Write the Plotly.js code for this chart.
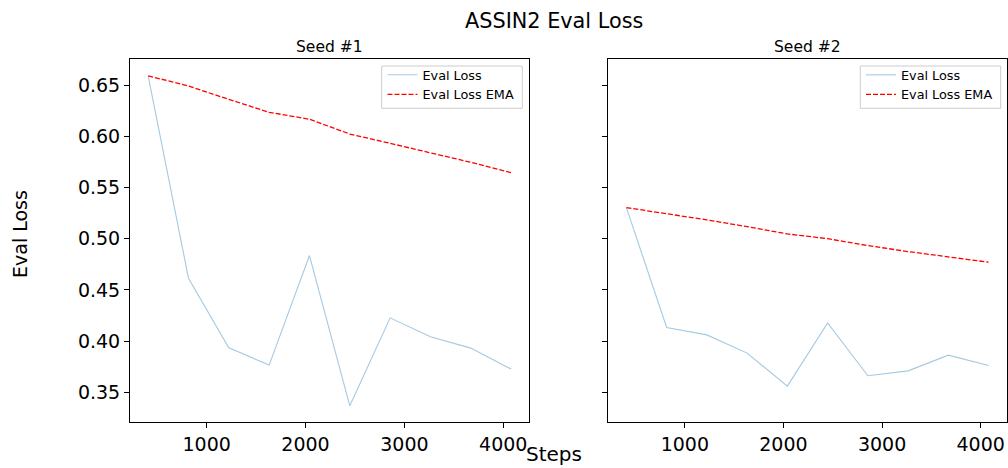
<!DOCTYPE html>
<html>
<head>
<meta charset="utf-8">
<script src="https://cdn.plot.ly/plotly-3.0.1.min.js"></script>
<style>html,body{margin:0;padding:0;background:#fff}#chart{width:1008px;height:468px}</style>
</head>
<body>
<div id="chart"></div>
<script>
const steps = [408, 816, 1224, 1632, 2040, 2448, 2856, 3264, 3672, 4080];
const seed1Loss = [0.659, 0.4615, 0.3936, 0.3767, 0.4836, 0.3370, 0.4228, 0.4043, 0.3933, 0.3728];
const seed1Ema  = [0.659, 0.649, 0.636, 0.6234, 0.6166, 0.6022, 0.5931, 0.584, 0.5746, 0.5645];
const seed2Loss = [0.5304, 0.4134, 0.4062, 0.3884, 0.3562, 0.4179, 0.3663, 0.3711, 0.3864, 0.3763];
const seed2Ema  = [0.5304, 0.5245, 0.5184, 0.5118, 0.5047, 0.5001, 0.4933, 0.4875, 0.4823, 0.4771];
const seriesNames = ['Eval Loss', 'Eval Loss EMA'];
const subplotTitles = ['Seed #1', 'Seed #2'];
const yTicks = [0.35, 0.40, 0.45, 0.50, 0.55, 0.60, 0.65];
const xTicks = [1000, 2000, 3000, 4000];

const W = 1008, H = 468;
const FONT = 'DejaVu Sans, sans-serif';

function pad(arr) {
  const mn = Math.min(...arr), mx = Math.max(...arr), d = (mx - mn) * 0.05;
  return [mn - d, mx + d];
}
const xr = pad(steps);
const yr = pad([].concat(seed1Loss, seed1Ema, seed2Loss, seed2Ema));

const lossLine = {color: 'rgba(31,119,180,0.4)', width: 1.1};
const emaLine = {color: 'red', width: 1.3, dash: '5px,2px'};

const traces = [
  {x: steps, y: seed1Loss, name: seriesNames[0], mode: 'lines', line: lossLine, xaxis: 'x', yaxis: 'y', legend: 'legend'},
  {x: steps, y: seed1Ema, name: seriesNames[1], mode: 'lines', line: emaLine, xaxis: 'x', yaxis: 'y', legend: 'legend'},
  {x: steps, y: seed2Loss, name: seriesNames[0], mode: 'lines', line: lossLine, xaxis: 'x2', yaxis: 'y2', legend: 'legend2'},
  {x: steps, y: seed2Ema, name: seriesNames[1], mode: 'lines', line: emaLine, xaxis: 'x2', yaxis: 'y2', legend: 'legend2'}
];

const yTop = 1 - 59.3 / H, yBot = 1 - 422.3 / H;

function xAxis(dom, anchor) {
  return {
    domain: dom, anchor: anchor, range: xr, tickvals: xTicks,
    ticks: 'outside', ticklen: 5, tickwidth: 1, tickcolor: '#000',
    showline: true, linecolor: '#000', linewidth: 1, mirror: true,
    showgrid: false, zeroline: false,
    tickfont: {family: FONT, size: 19, color: '#000'}
  };
}
function yAxis(anchor, labels) {
  return {
    domain: [yBot, yTop], anchor: anchor, range: yr, tickvals: yTicks, tickformat: '.2f',
    ticks: 'outside', ticklen: 5, tickwidth: 1, tickcolor: '#000',
    showline: true, linecolor: '#000', linewidth: 1, mirror: true,
    showgrid: false, zeroline: false, showticklabels: labels,
    tickfont: {family: FONT, size: 19, color: '#000'}
  };
}

const legendBase = {
  bgcolor: 'rgba(0,0,0,0)', borderwidth: 0,
  font: {family: FONT, size: 12.8, color: '#000'},
  xanchor: 'left', yanchor: 'top', y: 1 - 60 / H,
  tracegroupgap: 0, itemwidth: 30
};

function legendFrame(x0, x1) {
  return {type: 'rect', xref: 'paper', yref: 'paper', layer: 'above',
    x0: x0 / W, x1: x1 / W, y0: 1 - 108.3 / H, y1: 1 - 66 / H,
    fillcolor: 'rgba(255,255,255,0.8)', line: {color: '#cccccc', width: 1}};
}

const layout = {
  width: W, height: H,
  margin: {l: 0, r: 0, t: 0, b: 0},
  paper_bgcolor: '#fff', plot_bgcolor: '#fff',
  showlegend: true,
  xaxis: xAxis([130 / W, 529.3 / W], 'y'),
  yaxis: yAxis('x', true),
  xaxis2: xAxis([608.3 / W, 1006.7 / W], 'y2'),
  yaxis2: yAxis('x2', false),
  legend: Object.assign({}, legendBase, {x: 382.5 / W}),
  legend2: Object.assign({}, legendBase, {x: 861 / W}),
  shapes: [legendFrame(381.7, 522.3), legendFrame(860.3, 1000.7)],
  annotations: [
    {text: 'ASSIN2 Eval Loss', xref: 'paper', yref: 'paper', x: 554 / W, y: 1 - 21 / H,
     xanchor: 'center', yanchor: 'middle', showarrow: false, font: {family: FONT, size: 20.8, color: '#000'}},
    {text: subplotTitles[0], xref: 'paper', yref: 'paper', x: 329.7 / W, y: 1 - 47 / H,
     xanchor: 'center', yanchor: 'middle', showarrow: false, font: {family: FONT, size: 15.5, color: '#000'}},
    {text: subplotTitles[1], xref: 'paper', yref: 'paper', x: 807.5 / W, y: 1 - 47 / H,
     xanchor: 'center', yanchor: 'middle', showarrow: false, font: {family: FONT, size: 15.5, color: '#000'}},
    {text: 'Steps', xref: 'paper', yref: 'paper', x: 554 / W, y: 0,
     xanchor: 'center', yanchor: 'bottom', showarrow: false, font: {family: FONT, size: 20, color: '#000'}},
    {text: 'Eval Loss', xref: 'paper', yref: 'paper', x: 20 / W, y: 0.5, textangle: -90,
     xanchor: 'center', yanchor: 'middle', showarrow: false, font: {family: FONT, size: 19, color: '#000'}}
  ]
};

Plotly.newPlot('chart', traces, layout, {staticPlot: true, displayModeBar: false});
</script>
</body>
</html>
